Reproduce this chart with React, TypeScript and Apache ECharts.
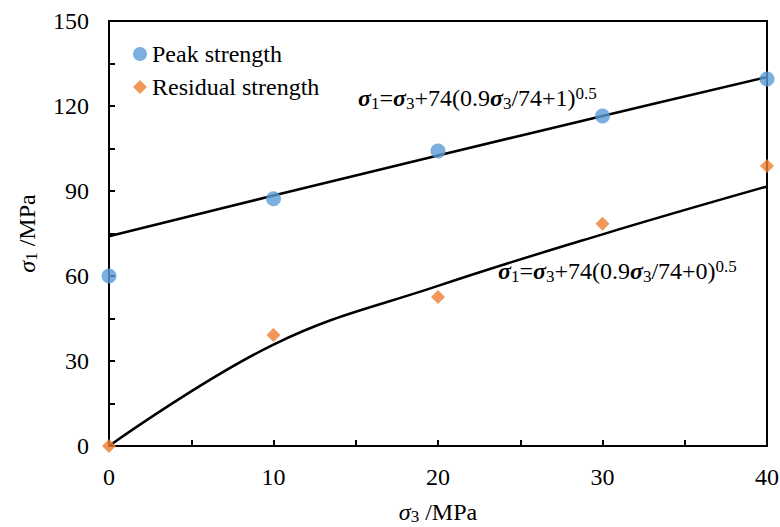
import { useEffect, useRef } from "react";
import * as echarts from "echarts";

const sigma3 = [0, 10, 20, 30, 40];
const peakStrength = [60, 87.3, 104.1, 116.5, 129.5];
const residualStrength = [0, 39.2, 52.6, 78.4, 98.8];
const peakFit = [74, 88.4, 102.5, 116.5, 130.2];
const residualFit = [0, 35.8, 56.5, 74.7, 91.6];
const seriesNames = ["Peak strength", "Residual strength"];

const FONT = "'Liberation Serif', 'Times New Roman', Times, serif";
const FS = 24;

const richBase = {
  n: { fontFamily: FONT, fontSize: FS, color: "#000", lineHeight: 27 },
  i: { fontFamily: FONT, fontSize: FS, color: "#000", fontStyle: "italic", lineHeight: 27 },
  b: { fontFamily: FONT, fontSize: FS, color: "#000", fontStyle: "italic", fontWeight: "bold", lineHeight: 27 },
  s: { fontFamily: FONT, fontSize: 17, color: "#000", verticalAlign: "bottom", lineHeight: 12 },
  p: { fontFamily: FONT, fontSize: 17, color: "#000", verticalAlign: "top", lineHeight: 12 },
};

export default function App() {
  const ref = useRef<HTMLDivElement>(null);
  useEffect(() => {
    if (!ref.current) return;
    const chart = echarts.init(ref.current, null, { renderer: "svg" });
    const pair = (ys: number[]) => sigma3.map((x, k) => [x, ys[k]]);
    chart.setOption({
      animation: false,
      backgroundColor: "#fff",
      textStyle: { fontFamily: FONT },
      grid: {
        left: 109,
        right: 13,
        top: 21,
        bottom: 81,
        containLabel: false,
        outerBoundsMode: "none",
        show: true,
        borderColor: "#000",
        borderWidth: 2,
      },
      legend: {
        orient: "vertical",
        left: 128,
        top: 37,
        itemWidth: 14,
        itemHeight: 14,
        itemGap: 9,
        data: seriesNames,
        textStyle: { fontFamily: FONT, fontSize: FS, color: "#000" },
      },
      xAxis: {
        type: "value",
        min: 0,
        max: 40,
        interval: 10,
        name: "{i|σ}{s|3}{n| /MPa}",
        nameLocation: "middle",
        nameGap: 52,
        nameTextStyle: { rich: richBase },
        axisLine: { show: true, lineStyle: { color: "#000", width: 2 } },
        axisTick: { show: true, inside: true, length: 6, lineStyle: { color: "#000", width: 2 } },
        minorTick: { show: true, splitNumber: 2, length: 6, lineStyle: { color: "#000", width: 2 } },
        axisLabel: { fontFamily: FONT, fontSize: FS, color: "#000", margin: 19 },
        splitLine: { show: false },
      },
      yAxis: {
        type: "value",
        min: 0,
        max: 150,
        interval: 30,
        name: "{i|σ}{s|1}{n| /MPa}",
        nameLocation: "middle",
        nameGap: 69,
        nameRotate: 90,
        nameTextStyle: { rich: richBase },
        axisLine: { show: true, lineStyle: { color: "#000", width: 2 } },
        axisTick: { show: true, inside: true, length: 6, lineStyle: { color: "#000", width: 2 } },
        minorTick: { show: true, splitNumber: 2, length: 6, lineStyle: { color: "#000", width: 2 } },
        axisLabel: { fontFamily: FONT, fontSize: FS, color: "#000", margin: 20 },
        splitLine: { show: false },
      },
      series: [
        {
          name: "fit1",
          type: "line",
          data: pair(peakFit),
          smooth: 0.4,
          showSymbol: false,
          lineStyle: { color: "#000", width: 2.5 },
          z: 3,
          silent: true,
        },
        {
          name: "fit2",
          type: "line",
          data: pair(residualFit),
          smooth: 0.4,
          showSymbol: false,
          lineStyle: { color: "#000", width: 2.5 },
          z: 3,
          silent: true,
        },
        {
          name: seriesNames[0],
          type: "scatter",
          data: pair(peakStrength),
          symbol: "circle",
          symbolSize: 15,
          itemStyle: { color: "#5B9BD5" },
          clip: false,
          z: 5,
        },
        {
          name: seriesNames[1],
          type: "scatter",
          data: pair(residualStrength),
          symbol: "diamond",
          symbolSize: 14,
          itemStyle: { color: "#ED7D31" },
          clip: false,
          z: 5,
        },
      ],
      graphic: [
        {
          type: "text",
          x: 358,
          y: 98,
          z: 10,
          style: {
            text: "{b|σ}{s|1}{n|=}{b|σ}{s|3}{n|+74(0.9}{b|σ}{s|3}{n|/74+1)}{p|0.5}",
            rich: richBase,
            align: "left",
            verticalAlign: "middle",
          },
        },
        {
          type: "text",
          x: 498,
          y: 271,
          z: 10,
          style: {
            text: "{b|σ}{s|1}{n|=}{b|σ}{s|3}{n|+74(0.9}{b|σ}{s|3}{n|/74+0)}{p|0.5}",
            rich: richBase,
            align: "left",
            verticalAlign: "middle",
          },
        },
      ],
    });
    return () => chart.dispose();
  }, []);
  return (
    <div
      ref={ref}
      style={{ position: "absolute", left: 0, top: 0, width: 780, height: 527 }}
    />
  );
}
